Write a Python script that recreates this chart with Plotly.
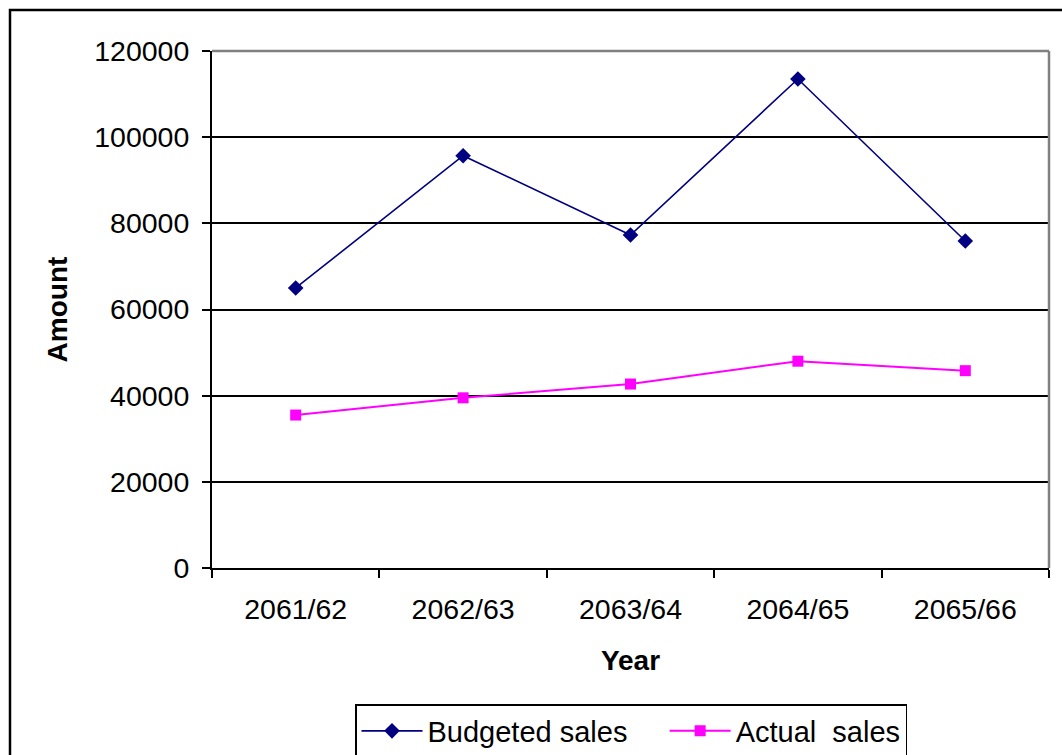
import plotly.graph_objects as go

years = ["2061/62", "2062/63", "2063/64", "2064/65", "2065/66"]
budgeted = [65000, 95700, 77300, 113500, 75900]
actual = [35500, 39500, 42700, 48000, 45800]
y_ticks = [0, 20000, 40000, 60000, 80000, 100000, 120000]

fig = go.Figure()
fig.add_trace(go.Scatter(
    x=years, y=budgeted, name="Budgeted sales\u00a0\u00a0\u00a0\u00a0", mode="lines+markers",
    line=dict(color="#000080", width=1.6),
    marker=dict(symbol="diamond", size=12, color="#000080"),
))
fig.add_trace(go.Scatter(
    x=years, y=actual, name="Actual\u00a0 sales", mode="lines+markers",
    line=dict(color="#FF00FF", width=2),
    marker=dict(symbol="square", size=11, color="#FF00FF"),
))

font = "Liberation Sans, Arial, sans-serif"
fig.update_layout(
    width=1062, height=755,
    margin=dict(l=212, r=13, t=51, b=187, autoexpand=False),
    paper_bgcolor="white", plot_bgcolor="white",
    font=dict(family=font, size=28, color="black"),
    showlegend=True,
    legend=dict(
        orientation="h", x=631 / 1062, xref="container", xanchor="center",
        y=(755 - 704) / 755, yref="container", yanchor="top",
        bordercolor="black", borderwidth=1.5, font=dict(size=29),
        itemwidth=61, tracegroupgap=0,
    ),
    xaxis=dict(
        type="category", range=[-0.5, 4.5], automargin=False,
        showgrid=False, showline=True, linecolor="black", linewidth=2,
        ticks="outside", tickson="boundaries", ticklen=8, tickwidth=2, tickcolor="black",
        ticklabelstandoff=15, tickfont=dict(size=28.5),
        title=dict(text="<b>Year</b>", font=dict(size=28), standoff=26),
        mirror=False,
    ),
    yaxis=dict(
        range=[0, 120000], tickvals=y_ticks, ticktext=[str(v) for v in y_ticks],
        automargin=False,
        showgrid=True, gridcolor="black", gridwidth=1.5,
        showline=True, linecolor="black", linewidth=2,
        ticks="outside", ticklen=8, tickwidth=2, tickcolor="black",
        ticklabelstandoff=7, tickfont=dict(size=28.5),
        title=dict(text="<b>Amount</b>", font=dict(size=28), standoff=18),
        zeroline=False,
    ),
    shapes=[
        dict(type="line", xref="paper", yref="paper", x0=0, x1=1, y0=1, y1=1,
             line=dict(color="#808080", width=2.5)),
        dict(type="line", xref="paper", yref="paper", x0=1, x1=1, y0=0, y1=1,
             line=dict(color="#808080", width=2.5)),
        dict(type="rect", xref="paper", yref="paper",
             x0=(10 - 212) / 837, x1=2, y0=-2, y1=(568 - 10) / 517,
             line=dict(color="black", width=2.5), layer="below"),
    ],
)

fig.write_html("out.html")
